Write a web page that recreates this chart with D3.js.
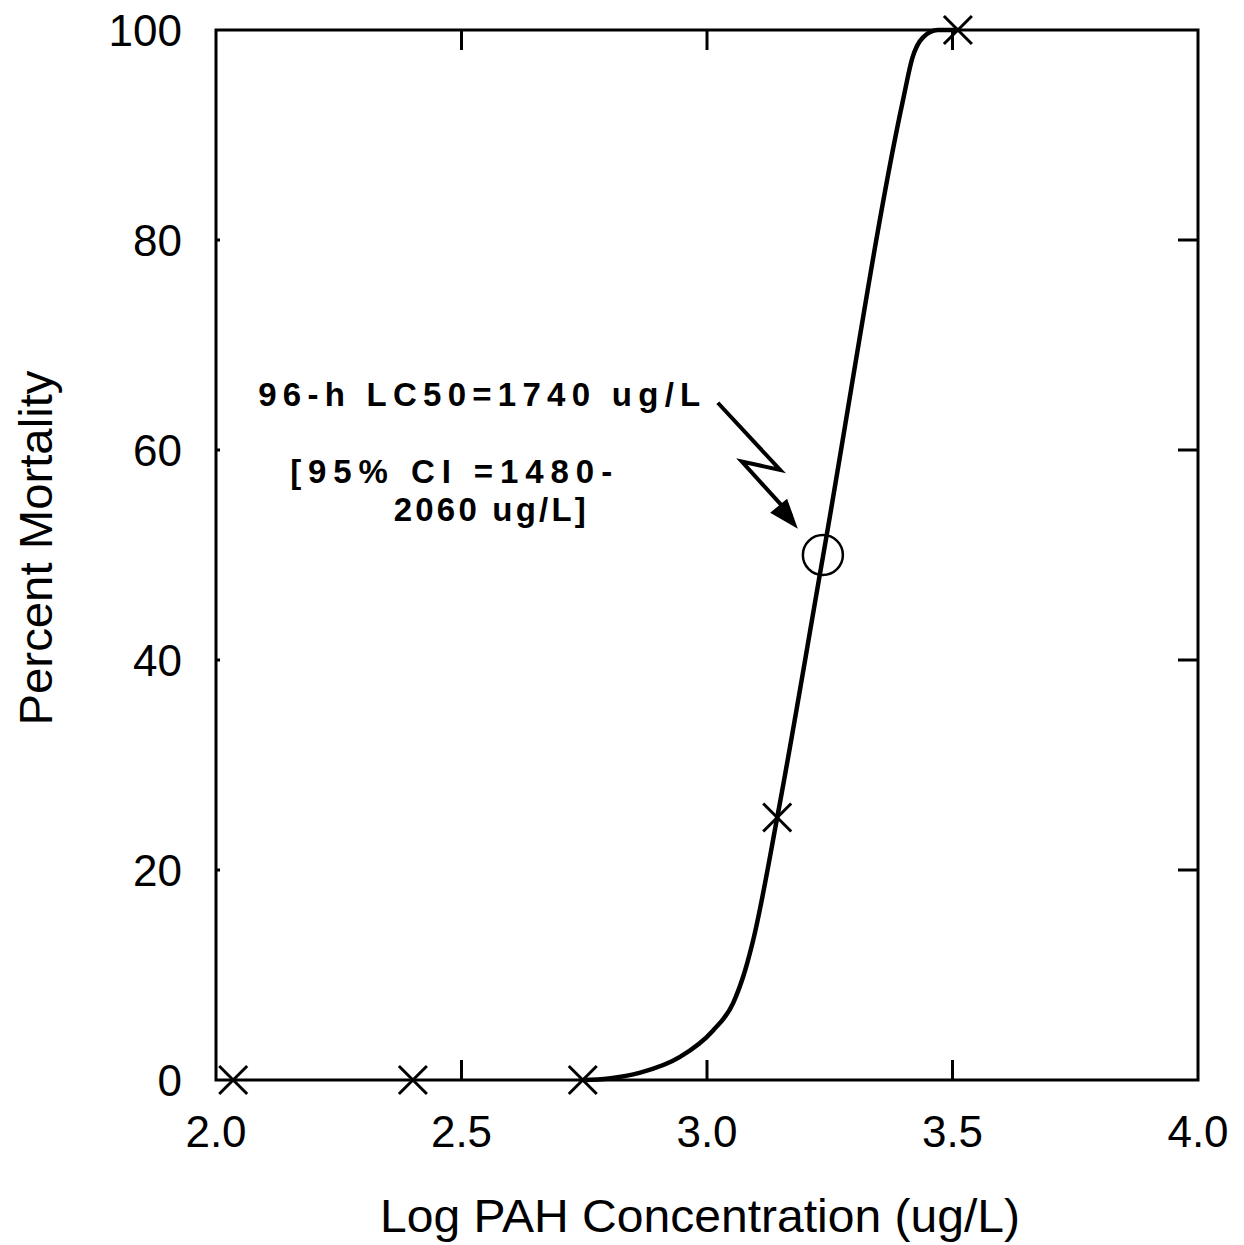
<!DOCTYPE html>
<html>
<head>
<meta charset="utf-8">
<script src="https://cdn.jsdelivr.net/npm/d3@7"></script>
<style>
  html, body { margin: 0; padding: 0; background: #fff; }
  svg { display: block; }
  .tick-label { font-family: "Liberation Sans", Arial, sans-serif; font-size: 44px; fill: #000; }
  .axis-title { font-family: "Liberation Sans", Arial, sans-serif; font-size: 47px; fill: #000; }
  .note { font-family: "Liberation Sans", Arial, sans-serif; font-weight: bold; font-size: 33px; fill: #000; }
</style>
</head>
<body>
<div id="chart"></div>
<script>
// ---------- Data ----------
const xTicks = [2.0, 2.5, 3.0, 3.5, 4.0];
const yTicks = [0, 20, 40, 60, 80, 100];

// observed mortality (X markers)
const obsLogConc = [2.035, 2.401, 2.747, 3.143, 3.511];
const obsMortality = [0, 0, 0, 25, 100];

// LC50 point (circle)
const lc50 = { logConc: 3.236, mortality: 50 };

// fitted curve
const fitLogConc = [2.747, 2.80, 2.864, 2.945, 3.012, 3.053, 3.078, 3.095, 3.143, 3.236, 3.40, 3.418, 3.44, 3.47, 3.511];
const fitMortality = [0, 0.15, 0.7, 2.2, 4.7, 7.3, 10.5, 13.5, 25, 49.8, 93.5, 97.3, 99.3, 100, 100];

// ---------- Setup ----------
const width = 1244, height = 1245;
const svg = d3.select('#chart').append('svg')
    .attr('width', width)
    .attr('height', height);

svg.append('rect').attr('width', width).attr('height', height).attr('fill', '#fff');

const x = d3.scaleLinear().domain([2, 4]).range([216, 1198]);
const y = d3.scaleLinear().domain([0, 100]).range([1080, 30]);

// ---------- Frame & ticks ----------
svg.append('rect')
    .attr('x', x(2)).attr('y', y(100))
    .attr('width', x(4) - x(2)).attr('height', y(0) - y(100))
    .attr('fill', 'none').attr('stroke', '#000').attr('stroke-width', 3);

const inner = xTicks.filter(t => t > 2 && t < 4);
svg.selectAll('.xtick-b').data(inner).join('line')
    .attr('x1', d => x(d)).attr('x2', d => x(d))
    .attr('y1', y(0)).attr('y2', y(0) - 20)
    .attr('stroke', '#000').attr('stroke-width', 3);
svg.selectAll('.xtick-t').data(inner).join('line')
    .attr('x1', d => x(d)).attr('x2', d => x(d))
    .attr('y1', y(100)).attr('y2', y(100) + 20)
    .attr('stroke', '#000').attr('stroke-width', 3);

const innerY = yTicks.filter(t => t > 0 && t < 100);
svg.selectAll('.ytick-r').data(innerY).join('line')
    .attr('x1', x(4)).attr('x2', x(4) - 20)
    .attr('y1', d => y(d)).attr('y2', d => y(d))
    .attr('stroke', '#000').attr('stroke-width', 3);
svg.selectAll('.ytick-l').data(innerY).join('line')
    .attr('x1', x(2)).attr('x2', x(2) + 4)
    .attr('y1', d => y(d)).attr('y2', d => y(d))
    .attr('stroke', '#000').attr('stroke-width', 3);

// tick labels
svg.selectAll('.xl').data(xTicks).join('text')
    .attr('class', 'tick-label')
    .attr('x', d => x(d)).attr('y', 1147)
    .attr('text-anchor', 'middle')
    .text(d => d.toFixed(1));

svg.selectAll('.yl').data(yTicks).join('text')
    .attr('class', 'tick-label')
    .attr('x', 182).attr('y', d => y(d) + 16)
    .attr('text-anchor', 'end')
    .text(d => d);

// axis titles
svg.append('text').attr('class', 'axis-title')
    .attr('x', 700).attr('y', 1232)
    .attr('text-anchor', 'middle')
    .attr('textLength', 640).attr('lengthAdjust', 'spacingAndGlyphs')
    .text('Log PAH Concentration (ug/L)');

svg.append('text').attr('class', 'axis-title')
    .attr('transform', `translate(52, 548) rotate(-90)`)
    .attr('text-anchor', 'middle')
    .attr('textLength', 355).attr('lengthAdjust', 'spacingAndGlyphs')
    .text('Percent Mortality');

// ---------- Curve ----------
const fit = fitLogConc.map((v, i) => [v, fitMortality[i]]);
const line = d3.line()
    .x(d => x(d[0]))
    .y(d => y(d[1]))
    .curve(d3.curveMonotoneX);

svg.append('path')
    .datum(fit)
    .attr('d', line)
    .attr('fill', 'none')
    .attr('stroke', '#000')
    .attr('stroke-width', 4.5)
    .attr('stroke-linejoin', 'round');

// ---------- Markers ----------
const s = 14;
const obs = obsLogConc.map((v, i) => ({ v, m: obsMortality[i] }));
const marks = svg.selectAll('.obs').data(obs).join('g')
    .attr('transform', d => `translate(${x(d.v)},${y(d.m)})`);
marks.append('line').attr('x1', -s).attr('y1', -s).attr('x2', s).attr('y2', s)
    .attr('stroke', '#000').attr('stroke-width', 3);
marks.append('line').attr('x1', -s).attr('y1', s).attr('x2', s).attr('y2', -s)
    .attr('stroke', '#000').attr('stroke-width', 3);

svg.append('circle')
    .attr('cx', x(lc50.logConc)).attr('cy', y(lc50.mortality))
    .attr('r', 20)
    .attr('fill', 'none').attr('stroke', '#000').attr('stroke-width', 2.5);

// ---------- Annotation ----------
svg.append('text').attr('class', 'note')
    .attr('x', x(2.086)).attr('y', y(64.2))
    .attr('textLength', 442).attr('lengthAdjust', 'spacing')
    .text('96-h LC50=1740 ug/L');
svg.append('text').attr('class', 'note')
    .attr('x', x(2.151)).attr('y', y(56.9))
    .attr('textLength', 322).attr('lengthAdjust', 'spacing')
    .text('[95% CI =1480-');
svg.append('text').attr('class', 'note')
    .attr('x', x(2.362)).attr('y', y(53.2))
    .attr('textLength', 192).attr('lengthAdjust', 'spacing')
    .text('2060 ug/L]');

const arrowPts = [[3.022, 64.5], [3.149, 58.1], [3.071, 58.9], [3.172, 53.7]];
svg.append('path')
    .attr('d', d3.line().x(d => x(d[0])).y(d => y(d[1]))(arrowPts))
    .attr('fill', 'none').attr('stroke', '#000').attr('stroke-width', 4)
    .attr('stroke-linejoin', 'miter');

// arrow head at the tip
const tip = [x(3.185), y(52.5)];
const from = [x(3.071), y(58.9)];
const ang = Math.atan2(tip[1] - from[1], tip[0] - from[0]);
const hl = 30, hw = 11;
const head = [
    tip,
    [tip[0] - hl * Math.cos(ang) + hw * Math.sin(ang), tip[1] - hl * Math.sin(ang) - hw * Math.cos(ang)],
    [tip[0] - hl * Math.cos(ang) - hw * Math.sin(ang), tip[1] - hl * Math.sin(ang) + hw * Math.cos(ang)]
];
svg.append('path')
    .attr('d', 'M' + head.map(p => p.join(',')).join('L') + 'Z')
    .attr('fill', '#000');
</script>
</body>
</html>
